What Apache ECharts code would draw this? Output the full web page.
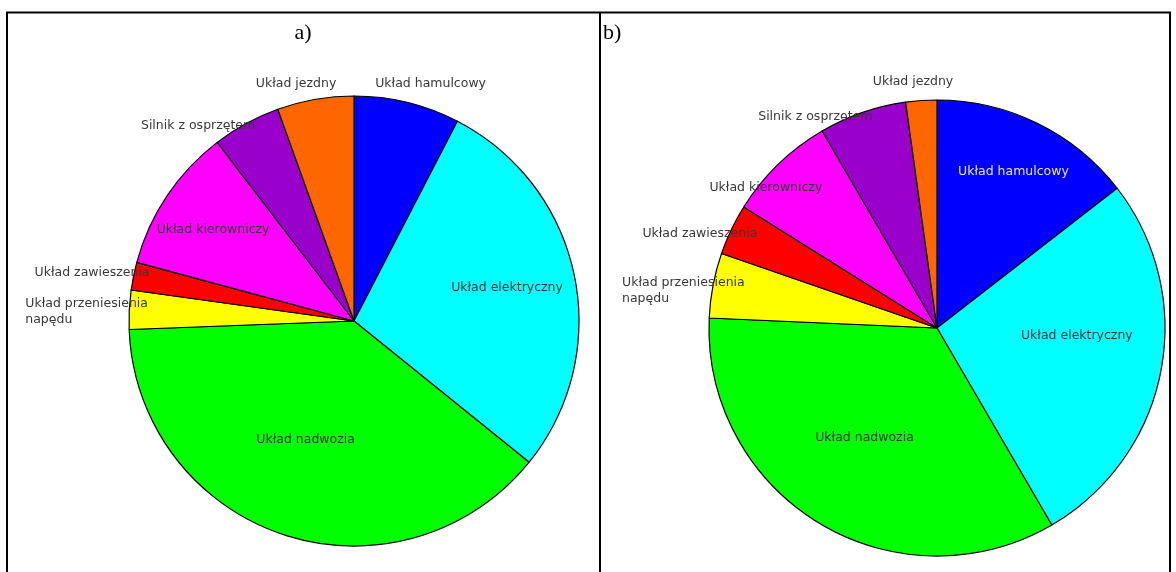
<!DOCTYPE html>
<html>
<head>
<meta charset="utf-8">
<script src="https://cdn.jsdelivr.net/npm/echarts@6/dist/echarts.min.js"></script>
<style>
html,body{margin:0;padding:0;background:#fff;}
#chart{width:1176px;height:572px;}
</style>
</head>
<body>
<div id="chart"></div>
<script>
// ---- data ----
const categories = [
  'Układ hamulcowy',
  'Układ elektryczny',
  'Układ nadwozia',
  'Układ przeniesienia\nnapędu',
  'Układ zawieszenia',
  'Układ kierowniczy',
  'Silnik z osprzętem',
  'Układ jezdny'
];
const valuesA = [7.6, 28.2, 38.6, 2.8, 2.0, 10.4, 4.9, 5.5];
const valuesB = [14.5, 27.1, 34.1, 4.6, 3.6, 7.7, 6.2, 2.2];
const panelTitles = ['a)', 'b)'];

// ---- styles ----
const sliceColors = ['#0000FF', '#00FFFF', '#00FF00', '#FFFF00', '#FF0000', '#FF00FF', '#9900CC', '#FF6600'];
const labelFont = 'DejaVu Sans';
// per-label placement tweaks (position mode, alignment, pixel offset)
const labelStyleA = [
  {position: 'outside', offset: [-37, -19]},
  {position: 'inside', offset: [40, -9]},
  {position: 'inside', offset: [-12, 9]},
  {position: 'outside', align: 'left', offset: [-99, 2]},
  {position: 'outside', offset: [21, -3]},
  {position: 'inside', offset: [-45, -27]},
  {position: 'outside', offset: [14, 2]},
  {position: 'outside', offset: [26, -16]}
];
const labelStyleB = [
  {position: 'inside', offset: [25, -51], color: '#e6e6e6'},
  {position: 'inside', offset: [25, -15]},
  {position: 'inside', offset: [-12, 10]},
  {position: 'outside', align: 'left', offset: [-86, 5]},
  {position: 'outside', offset: [31, 4]},
  {position: 'outside', offset: [49, 23]},
  {position: 'outside', offset: [15, 4]},
  {position: 'outside', offset: [37, -19]}
];
const allLabelStyles = [labelStyleA, labelStyleB];

function buildData(values, styles) {
  return categories.map((name, i) => {
    const s = styles[i];
    return {
      name: name,
      value: values[i],
      itemStyle: {color: sliceColors[i]},
      label: {
        position: s.position,
        offset: s.offset,
        color: s.color || '#383838',
        fontFamily: labelFont,
        fontSize: 12.5,
        lineHeight: 16
      }
    };
  });
}

function pieSeries(values, styles, center, radius) {
  return {
    type: 'pie',
    center: center,
    radius: radius,
    startAngle: 90,
    clockwise: true,
    avoidLabelOverlap: false,
    animation: false,
    silent: true,
    itemStyle: {borderColor: '#000', borderWidth: 1.2},
    label: {show: true, alignTo: 'none', distanceToLabelLine: 5},
    labelLine: {show: false, length: 0, length2: 0},
    labelLayout: function (p) {
      const st = allLabelStyles[p.seriesIndex][p.dataIndex];
      if (st && st.align) {
        return {align: st.align};
      }
      return {};
    },
    emphasis: {disabled: true},
    data: buildData(values, styles)
  };
}

const chart = echarts.init(document.getElementById('chart'), null, {renderer: 'canvas'});
chart.setOption({
  backgroundColor: '#fff',
  animation: false,
  graphic: [
    {type: 'line', shape: {x1: 6, y1: 12.5, x2: 1171, y2: 12.5}, style: {stroke: '#000', lineWidth: 2}},
    {type: 'line', shape: {x1: 7, y1: 12, x2: 7, y2: 572}, style: {stroke: '#000', lineWidth: 2}},
    {type: 'line', shape: {x1: 600, y1: 12, x2: 600, y2: 572}, style: {stroke: '#000', lineWidth: 2}},
    {type: 'line', shape: {x1: 1170, y1: 12, x2: 1170, y2: 572}, style: {stroke: '#000', lineWidth: 2}},
    {type: 'text', x: 303, y: 33, style: {text: panelTitles[0], fill: '#000', font: '22px "Liberation Serif"', textAlign: 'center', textVerticalAlign: 'middle'}},
    {type: 'text', x: 603, y: 33, style: {text: panelTitles[1], fill: '#000', font: '22px "Liberation Serif"', textAlign: 'left', textVerticalAlign: 'middle'}}
  ],
  series: [
    pieSeries(valuesA, labelStyleA, [354, 321], 225),
    pieSeries(valuesB, labelStyleB, [937, 328], 228)
  ]
});
</script>
</body>
</html>
